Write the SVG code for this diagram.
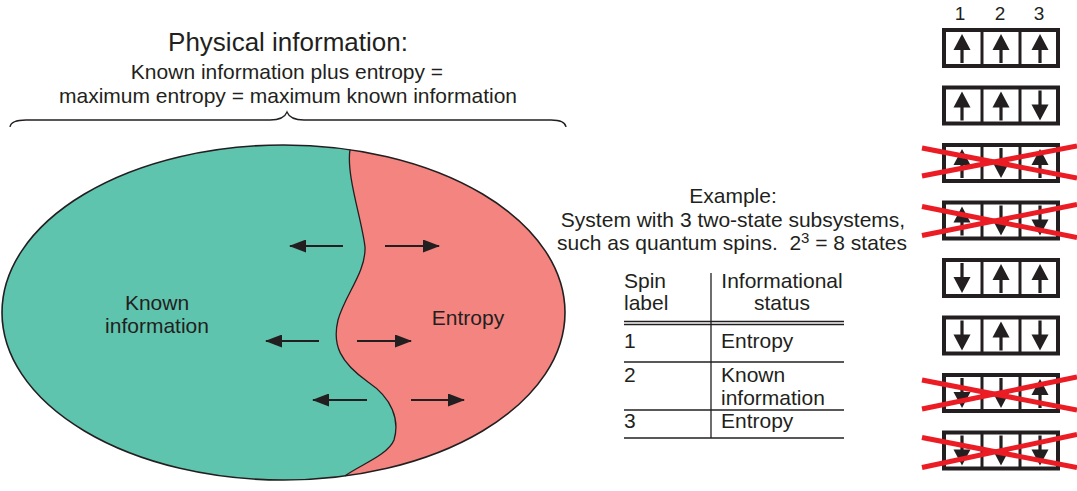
<svg xmlns="http://www.w3.org/2000/svg" xmlns:xlink="http://www.w3.org/1999/xlink" width="1077" height="491" viewBox="0 0 1077 491">
<style>
text{font-family:"Liberation Sans",Arial,sans-serif;fill:#231f20;font-size:21px}
.mid{text-anchor:middle}
.title{font-size:26px}
.ln{stroke:#231f20;stroke-width:1.3;fill:none}
.arr{stroke:#231f20;stroke-width:2;fill:none}
.box{fill:#fff;stroke:#231f20;stroke-width:4}
.div{stroke:#231f20;stroke-width:3}
.x{stroke:#ec1c24;stroke-width:5}
.num{font-size:19px}
</style>
<defs>
<marker id="ah" markerUnits="userSpaceOnUse" markerWidth="17" markerHeight="13" refX="16" refY="6.5" orient="auto">
<path d="M0,0 L17,6.5 L0,13 z" fill="#231f20"/>
</marker>
<g id="up"><polygon points="-8.5,22 0,6 8.5,22" fill="#231f20"/><rect x="-1.6" y="20" width="3.2" height="15" fill="#231f20"/></g>
<g id="down"><polygon points="-8.5,19 0,35 8.5,19" fill="#231f20"/><rect x="-1.6" y="5" width="3.2" height="16" fill="#231f20"/></g>
</defs>

<g id="header">
<text class="mid title" x="288" y="51">Physical information:</text>
<text class="mid" x="287" y="79">Known information plus entropy =</text>
<text class="mid" x="288" y="103">maximum entropy = maximum known information</text>
<path class="ln" d="M10,127 Q11,120 26,120 L270,120 Q284,120 287,112 Q290,120 304,120 L551,120 Q565,120 566,127"/>
</g>

<g id="ellipse">
<ellipse cx="283.5" cy="312.5" rx="281.5" ry="167.5" fill="#5ec4ae"/>
<path d="M350,149.7 C346,175 362,220 365,247 C366,272 345,295 338,320 C332,345 340,362 368,382 C392,398 400,420 394,440 C388,455 360,465 345,475.9 A281.5,167.5 0 0 0 350,149.7 z" fill="#f4847f"/>
<path class="ln" d="M350,149.7 C346,175 362,220 365,247 C366,272 345,295 338,320 C332,345 340,362 368,382 C392,398 400,420 394,440 C388,455 360,465 345,475.9"/>
<ellipse class="ln" cx="283.5" cy="312.5" rx="281.5" ry="167.5" style="stroke-width:1.6"/>
</g>

<g id="known-information">
<text class="mid" x="157" y="310">Known</text>
<text class="mid" x="157" y="333">information</text>
</g>
<g id="entropy">
<text class="mid" x="468" y="325">Entropy</text>
</g>

<g id="connectors">
<line class="arr" x1="343" y1="246" x2="290" y2="246" marker-end="url(#ah)"/>
<line class="arr" x1="385" y1="246" x2="439" y2="246" marker-end="url(#ah)"/>
<line class="arr" x1="319" y1="341" x2="266" y2="341" marker-end="url(#ah)"/>
<line class="arr" x1="357" y1="341" x2="411" y2="341" marker-end="url(#ah)"/>
<line class="arr" x1="367" y1="400" x2="313" y2="400" marker-end="url(#ah)"/>
<line class="arr" x1="411" y1="400" x2="464" y2="400" marker-end="url(#ah)"/>
</g>

<g id="example">
<text class="mid" x="733" y="203">Example:</text>
<text class="mid" x="733" y="227">System with 3 two-state subsystems,</text>
<text class="mid" x="732" y="250">such as quantum spins.&#160; 2<tspan dy="-7" font-size="15">3</tspan><tspan dy="7"> = 8 states</tspan></text>
</g>

<g id="table">
<text x="624" y="288">Spin</text>
<text x="624" y="310">label</text>
<text class="mid" x="782" y="288">Informational</text>
<text class="mid" x="782" y="310">status</text>
<line class="ln" x1="711" y1="273" x2="711" y2="438"/>
<line class="ln" x1="624" y1="321.5" x2="844" y2="321.5"/>
<line class="ln" x1="624" y1="324.5" x2="844" y2="324.5"/>
<text x="624" y="348">1</text>
<text x="721" y="348">Entropy</text>
<line class="ln" x1="624" y1="362" x2="844" y2="362"/>
<text x="624" y="382">2</text>
<text x="721" y="382">Known</text>
<text x="721" y="405">information</text>
<line class="ln" x1="624" y1="410" x2="844" y2="410"/>
<text x="624" y="428">3</text>
<text x="721" y="428">Entropy</text>
<line class="ln" x1="624" y1="438" x2="844" y2="438"/>
</g>

<g id="spin-labels">
<text class="mid num" x="960" y="20">1</text>
<text class="mid num" x="1000" y="20">2</text>
<text class="mid num" x="1039" y="20">3</text>
</g>

<g id="state-1" transform="translate(0,28)">
<rect class="box" x="944" y="2" width="114" height="36"/><line class="div" x1="982" y1="2" x2="982" y2="38"/><line class="div" x1="1020" y1="2" x2="1020" y2="38"/>
<use xlink:href="#up" x="962"/><use xlink:href="#up" x="1001"/><use xlink:href="#up" x="1040"/>
</g>
<g id="state-2" transform="translate(0,85.5)">
<rect class="box" x="944" y="2" width="114" height="36"/><line class="div" x1="982" y1="2" x2="982" y2="38"/><line class="div" x1="1020" y1="2" x2="1020" y2="38"/>
<use xlink:href="#up" x="962"/><use xlink:href="#up" x="1001"/><use xlink:href="#down" x="1040"/>
</g>
<g id="state-3" transform="translate(0,143)">
<rect class="box" x="944" y="2" width="114" height="36"/><line class="div" x1="982" y1="2" x2="982" y2="38"/><line class="div" x1="1020" y1="2" x2="1020" y2="38"/>
<use xlink:href="#up" x="962"/><use xlink:href="#down" x="1001"/><use xlink:href="#up" x="1040"/>
<line class="x" x1="922" y1="5" x2="1077" y2="35"/><line class="x" x1="922" y1="33" x2="1077" y2="3"/>
</g>
<g id="state-4" transform="translate(0,200.5)">
<rect class="box" x="944" y="2" width="114" height="36"/><line class="div" x1="982" y1="2" x2="982" y2="38"/><line class="div" x1="1020" y1="2" x2="1020" y2="38"/>
<use xlink:href="#up" x="962"/><use xlink:href="#down" x="1001"/><use xlink:href="#down" x="1040"/>
<line class="x" x1="922" y1="6" x2="1077" y2="37"/><line class="x" x1="922" y1="35" x2="1077" y2="4"/>
</g>
<g id="state-5" transform="translate(0,258)">
<rect class="box" x="944" y="2" width="114" height="36"/><line class="div" x1="982" y1="2" x2="982" y2="38"/><line class="div" x1="1020" y1="2" x2="1020" y2="38"/>
<use xlink:href="#down" x="962"/><use xlink:href="#up" x="1001"/><use xlink:href="#up" x="1040"/>
</g>
<g id="state-6" transform="translate(0,315.5)">
<rect class="box" x="944" y="2" width="114" height="36"/><line class="div" x1="982" y1="2" x2="982" y2="38"/><line class="div" x1="1020" y1="2" x2="1020" y2="38"/>
<use xlink:href="#down" x="962"/><use xlink:href="#up" x="1001"/><use xlink:href="#down" x="1040"/>
</g>
<g id="state-7" transform="translate(0,373)">
<rect class="box" x="944" y="2" width="114" height="36"/><line class="div" x1="982" y1="2" x2="982" y2="38"/><line class="div" x1="1020" y1="2" x2="1020" y2="38"/>
<use xlink:href="#down" x="962"/><use xlink:href="#down" x="1001"/><use xlink:href="#up" x="1040"/>
<line class="x" x1="922" y1="7" x2="1077" y2="37"/><line class="x" x1="922" y1="36" x2="1077" y2="4"/>
</g>
<g id="state-8" transform="translate(0,430.5)">
<rect class="box" x="944" y="2" width="114" height="36"/><line class="div" x1="982" y1="2" x2="982" y2="38"/><line class="div" x1="1020" y1="2" x2="1020" y2="38"/>
<use xlink:href="#down" x="962"/><use xlink:href="#down" x="1001"/><use xlink:href="#down" x="1040"/>
<line class="x" x1="922" y1="7" x2="1077" y2="37"/><line class="x" x1="922" y1="37" x2="1077" y2="4"/>
</g>
</svg>
